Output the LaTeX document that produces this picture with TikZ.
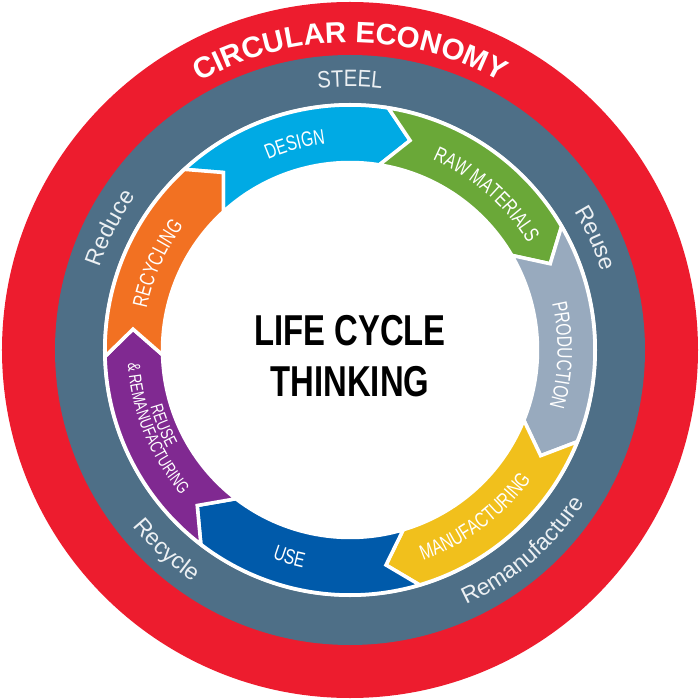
\documentclass[tikz,border=0pt]{standalone}
\usepackage{fontspec}
\setmainfont{Liberation Sans}
\newfontfamily\condfont[FakeStretch=0.85]{Liberation Sans}
\newfontfamily\narrowfont[FakeStretch=0.74]{Liberation Sans}
\newfontfamily\titlefont[FakeStretch=0.76]{Liberation Sans}
\usetikzlibrary{decorations.text}

\definecolor{ringred}{RGB}{237,28,46}
\definecolor{steelring}{RGB}{78,111,135}
\definecolor{ringwhite}{RGB}{236,240,243}
\definecolor{designblue}{RGB}{0,170,228}
\definecolor{rawgreen}{RGB}{106,168,56}
\definecolor{prodgray}{RGB}{152,170,190}
\definecolor{manuyellow}{RGB}{241,192,28}
\definecolor{useblue}{RGB}{0,90,170}
\definecolor{reusepurple}{RGB}{128,41,145}
\definecolor{recycorange}{RGB}{242,113,34}

\newcommand\ringfont{\fontsize{13.2}{15}\selectfont}
\newcommand\arrowfont{\narrowfont\fontsize{12}{13}\selectfont}
\newcommand\smallarrowfont{\narrowfont\fontsize{10}{11}\selectfont}

\begin{document}
\begin{tikzpicture}[
    textarc/.style={decorate, decoration={text along path, text align=center, text color=#1}}
]
    \useasboundingbox (-7,-7) rectangle (7,7);

    % 三层圆环
    \fill[ringred] (0,0) circle (6.96);
    \fill[steelring] (0,0) circle (5.9);
    \fill[white] (0,0) circle (4.94);

    % 七段箭头（顺时针）
    \foreach \a/\b/\c in {132.5/81/designblue, 81/30.3/rawgreen, 30.3/-22/prodgray,
            -22/-73.5/manuyellow, -73.5/-127.5/useblue, -127.5/-178.5/reusepurple,
            -178.5/-227.5/recycorange}
        \filldraw[fill=\c, draw=white, line width=0.07cm]
            (\a:4.9) arc[start angle=\a, end angle=\b, radius=4.9] -- ({\b-7}:4.36)
            -- (\b:3.75) arc[start angle=\b, end angle=\a, radius=3.75] -- ({\a-7}:4.36) -- cycle;

    % 中心文字
    \node[align=center, font=\titlefont\bfseries\fontsize{24.6}{29}\selectfont] (title) at (0,-0.12)
        {LIFE CYCLE\\THINKING};

    % 外圈文字
    \path[textarc=white, decoration={text={|\bfseries\fontsize{16.8}{18}\selectfont|CIRCULAR ECONOMY}}]
        (135:6.15) arc[start angle=135, end angle=45, radius=6.15];
    \path[textarc=ringwhite, decoration={text={|\condfont\fontsize{13.5}{15}\selectfont|STEEL}}]
        (120:5.27) arc[start angle=120, end angle=60, radius=5.27];
    \path[textarc=ringwhite, decoration={text={|\ringfont|Reduce}}]
        (183:5.27) arc[start angle=183, end angle=123, radius=5.27];
    \path[textarc=ringwhite, decoration={text={|\ringfont|Reuse}}]
        (54.5:5.27) arc[start angle=54.5, end angle=-5.5, radius=5.27];
    \path[textarc=ringwhite, decoration={text={|\ringfont|Recycle}}]
        (-162.6:5.6) arc[start angle=-162.6, end angle=-102.6, radius=5.6];
    \path[textarc=ringwhite, decoration={text={|\ringfont|Remanufacture}}]
        (-89.3:5.6) arc[start angle=-89.3, end angle=-9.3, radius=5.6];

    % 箭头上的文字
    \path[textarc=white, decoration={text={|\arrowfont|DESIGN}}]
        (135:4.15) arc[start angle=135, end angle=75, radius=4.15];
    \path[textarc=white, decoration={text={|\arrowfont|RAW MATERIALS}}]
        (88.7:4.15) arc[start angle=88.7, end angle=8.7, radius=4.15];
    \path[textarc=white, decoration={text={|\arrowfont|PRODUCTION}}]
        (38.6:4.15) arc[start angle=38.6, end angle=-41.4, radius=4.15];
    \path[textarc=white, decoration={text={|\arrowfont|MANUFACTURING}}]
        (-93.2:4.45) arc[start angle=-93.2, end angle=-13.2, radius=4.45];
    \path[textarc=white, decoration={text={|\arrowfont|USE}}]
        (-136.3:4.45) arc[start angle=-136.3, end angle=-76.3, radius=4.45];
    \path[textarc=white, decoration={text={|\smallarrowfont|REUSE}}]
        (-198:4.15) arc[start angle=-198, end angle=-118, radius=4.15];
    \path[textarc=white, decoration={text={|\smallarrowfont|{\&} REMANUFACTURING}}]
        (-198:4.45) arc[start angle=-198, end angle=-118, radius=4.45];
    \path[textarc=white, decoration={text={|\arrowfont|RECYCLING}}]
        (195.9:4.15) arc[start angle=195.9, end angle=115.9, radius=4.15];
\end{tikzpicture}
\end{document}
